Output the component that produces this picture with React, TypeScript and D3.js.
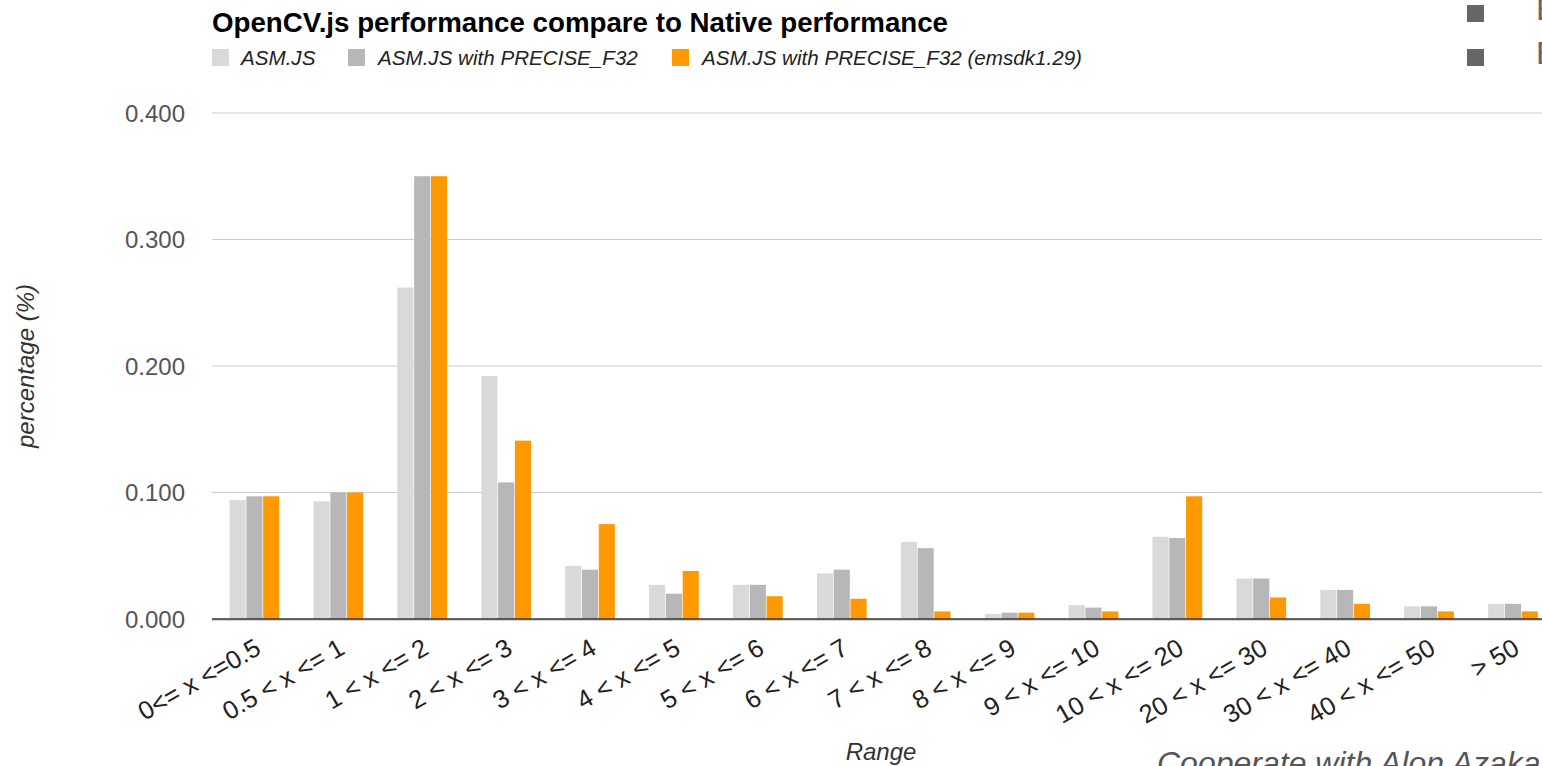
import React, { useEffect } from "react";
import * as d3 from "d3";

const categories = [
  "0<= x <=0.5", "0.5 < x <= 1", "1 < x <= 2", "2 < x <= 3", "3 < x <= 4",
  "4 < x <= 5", "5 < x <= 6", "6 < x <= 7", "7 < x <= 8", "8 < x <= 9",
  "9 < x <= 10", "10 < x <= 20", "20 < x <= 30", "30 < x <= 40", "40 < x <= 50", "> 50",
];
const seriesNames = ["ASM.JS", "ASM.JS with PRECISE_F32", "ASM.JS with PRECISE_F32 (emsdk1.29)"];
const asmjs = [0.094, 0.093, 0.262, 0.192, 0.042, 0.027, 0.027, 0.036, 0.061, 0.004, 0.011, 0.065, 0.032, 0.023, 0.010, 0.012];
const precise = [0.097, 0.100, 0.350, 0.108, 0.039, 0.020, 0.027, 0.039, 0.056, 0.005, 0.009, 0.064, 0.032, 0.023, 0.010, 0.012];
const emsdk = [0.097, 0.100, 0.350, 0.141, 0.075, 0.038, 0.018, 0.016, 0.006, 0.005, 0.006, 0.097, 0.017, 0.012, 0.006, 0.006];
const colors = ["#d9d9d9", "#b7b7b7", "#ff9900"];
const yTicks = [0, 0.1, 0.2, 0.3, 0.4];

const W = 1542, H = 766;
const font = "Arial, 'Liberation Sans', sans-serif";

export default function App() {
  useEffect(() => { document.body.style.margin = "0"; }, []);
  const values = [asmjs, precise, emsdk];
  const x0 = d3.scaleBand<string>().domain(categories).range([212.5, 212.5 + 16 * 83.9]).paddingInner(0.392).paddingOuter(0.196);
  const x1 = d3.scaleBand<number>().domain([0, 1, 2]).range([0, x0.bandwidth()]).padding(0.04);
  const y = d3.scaleLinear().domain([0, 0.4]).range([619, 113]);
  const fmt = d3.format(".3f");

  return (
    <svg width={W} height={H} style={{ position: "absolute", left: 0, top: 0, background: "#fff", display: "block" }} fontFamily={font}>
      <rect x={0} y={0} width={W} height={H} fill="#fff" />
      {/* title */}
      <text x={212} y={32} fontSize={27.7} fontWeight="bold" fill="#000">OpenCV.js performance compare to Native performance</text>
      {/* legend */}
      {[
        { sx: 212, tx: 241 },
        { sx: 348, tx: 378 },
        { sx: 672, tx: 702 },
      ].map((p, i) => (
        <g key={i}>
          <rect x={p.sx} y={49} width={17} height={17} fill={colors[i]} />
          <text x={p.tx} y={65} fontSize={20.6} fontStyle="italic" fill="#222">{seriesNames[i]}</text>
        </g>
      ))}
      {/* top-right fragments */}
      <rect x={1467} y={5} width={17} height={17} fill="#666" />
      <rect x={1467} y={49} width={17} height={17} fill="#666" />
      <text x={1536} y={20} fontSize={32} fill="#666">E</text>
      <text x={1536} y={64} fontSize={32} fill="#666">E</text>
      {/* gridlines */}
      {yTicks.map((t) => (
        <g key={t}>
          {t > 0 && <line x1={212} x2={W} y1={y(t)} y2={y(t)} stroke="#cccccc" strokeWidth={1.2} />}
          <text x={185} y={y(t) + 8.5} fontSize={24} textAnchor="end" fill="#555">{fmt(t)}</text>
        </g>
      ))}
      {/* bars */}
      {categories.map((c, ci) => (
        <g key={c} transform={`translate(${x0(c)},0)`}>
          {values.map((vals, si) => (
            <rect key={si} x={x1(si)} y={y(vals[ci])} width={x1.bandwidth()} height={y(0) - y(vals[ci])} fill={colors[si]} />
          ))}
        </g>
      ))}
      {/* baseline */}
      <line x1={212} x2={W} y1={y(0) + 1} y2={y(0) + 1} stroke="#aaaaaa" strokeWidth={1} />
      <line x1={212} x2={W} y1={y(0)} y2={y(0)} stroke="#333" strokeWidth={1.5} />
      {/* x labels */}
      {categories.map((c) => {
        const cx = (x0(c) as number) + x0.bandwidth() / 2 + 8;
        const cy = 653;
        return (
          <text key={c} x={cx} y={cy} fontSize={25.5} textAnchor="end" fill="#222" transform={`rotate(-30,${cx},${cy})`}>{c}</text>
        );
      })}
      {/* axis titles */}
      <text x={881} y={760} fontSize={24} fontStyle="italic" textAnchor="middle" fill="#333">Range</text>
      <text transform="translate(34,366) rotate(-90)" fontSize={24} fontStyle="italic" textAnchor="middle" fill="#333">percentage (%)</text>
      <text x={1157} y={774} fontSize={32} fontStyle="italic" fill="#555">Cooperate with Alon Azakai</text>
    </svg>
  );
}
